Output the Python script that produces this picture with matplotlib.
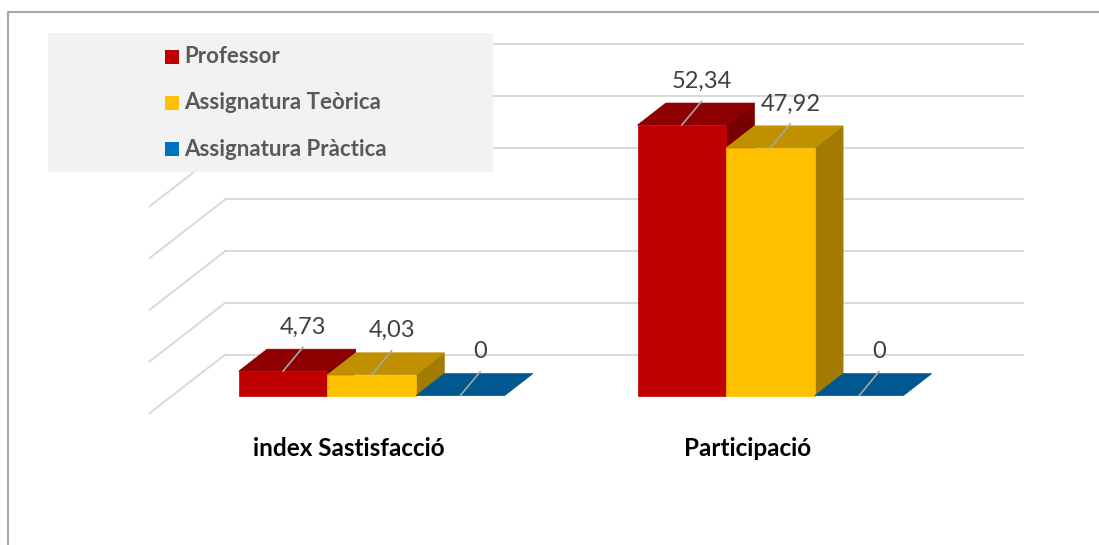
#-----------------------------------------------------------------------
#
#---- plot.py : Histogramme 3D Professor / Assignatura
#
#-----------------------------------------------------------------------

import matplotlib
matplotlib.use("Agg")
import matplotlib.pyplot as plt
from matplotlib.patches import Polygon, Rectangle


#-----------------------------------------------------------------------
#---- Donnees
#-----------------------------------------------------------------------
categories = ["index Sastisfacció", "Participació"]
series = ["Professor", "Assignatura Teòrica", "Assignatura Pràctica"]
professor = [4.73, 52.34]
teorica = [4.03, 47.92]
practica = [0, 0]
values = [professor, teorica, practica]
yTicks = [0, 10, 20, 30, 40, 50, 60]

#---- couleurs (face avant, dessus, cote)
colFront = ["#C00000", "#FFC000", "#005A96"]
colTop = ["#8E0000", "#C09000", "#00588F"]
colSide = ["#780000", "#A27C00", "#004878"]
colLegend = ["#C00000", "#FFC000", "#0070C0"]

plt.rcParams['font.family'] = ['Lato', 'DejaVu Sans']

#-----------------------------------------------------------------------
#---- Geometrie (pixels de l'image)
#-----------------------------------------------------------------------
W, H = 1099, 545
pxPerCat = 398.8
pxPerVal = 5.17
cat0Px = 349.0
floorFrontPx = 413.2

xLeft = -cat0Px / pxPerCat
xRight = (W - cat0Px) / pxPerCat
yTop = floorFrontPx / pxPerVal
yBottom = -(H - floorFrontPx) / pxPerVal

DX = 75.5 / pxPerCat
DY = 58.6 / pxPerVal

barW = 1.0 / 4.5
zFront = 0.30
zBack = 0.675


def proj(x, y, z):
    return (x + z*DX, y + z*DY)


#-----------------------------------------------------------------------
#---- Figure
#-----------------------------------------------------------------------
fig = plt.figure(figsize=(W/100, H/100), dpi=100)
ax = fig.add_axes([0, 0, 1, 1])
ax.set_xlim(xLeft, xRight)
ax.set_ylim(yBottom, yTop)
ax.axis('off')

#---- Grille (mur du fond + mur gauche)
gridCol = "#D9D9D9"
x0Floor = -0.5
x1Floor = len(categories) - 0.5
for v in yTicks:
    p0 = proj(x0Floor, v, 1)
    p1 = proj(x1Floor, v, 1)
    ax.plot([p0[0], p1[0]], [p0[1], p1[1]], color=gridCol, lw=1.4, zorder=1)
    p2 = proj(x0Floor, v, 0)
    ax.plot([p2[0], p0[0]], [p2[1], p0[1]], color=gridCol, lw=1.4, zorder=1)

#---- Barres
for c in range(len(categories)):
    for i in range(len(series)):
        v = values[i][c]
        xa = c - 1.5*barW + i*barW
        xb = xa + barW
        side = [proj(xb, 0, zFront), proj(xb, 0, zBack), proj(xb, v, zBack), proj(xb, v, zFront)]
        top = [proj(xa, v, zFront), proj(xb, v, zFront), proj(xb, v, zBack), proj(xa, v, zBack)]
        front = [proj(xa, 0, zFront), proj(xb, 0, zFront), proj(xb, v, zFront), proj(xa, v, zFront)]
        z = 2 + c*10 + i*3
        if v > 0:
            ax.add_patch(Polygon(side, closed=True, facecolor=colSide[i], edgecolor=colSide[i], lw=0.5, zorder=z))
        ax.add_patch(Polygon(top, closed=True, facecolor=colTop[i], edgecolor=colTop[i], lw=0.5, zorder=z+1))
        if v > 0:
            ax.add_patch(Polygon(front, closed=True, facecolor=colFront[i], edgecolor=colFront[i], lw=0.5, zorder=z+2))

        #---- Etiquette de valeur avec trait de rappel
        if v == int(v):
            txt = str(int(v))
        else:
            txt = ("%.2f" % v).replace('.', ',')
        start = proj(xa + barW/2, v, zFront)
        ax.annotate("", xy=start, xytext=(20, 24), textcoords='offset pixels',
                    arrowprops=dict(arrowstyle='-', color="#A6A6A6", lw=1.2, shrinkA=0, shrinkB=0),
                    zorder=40)
        ax.annotate(txt, xy=start, xytext=(20, 44), textcoords='offset pixels',
                    ha='center', va='center', fontsize=17, color="#404040", zorder=40)

#---- Libelles des categories
for c, lab in enumerate(categories):
    ax.annotate(lab, xy=(c, 0), xytext=(0, -35), textcoords='offset pixels',
                ha='center', va='center', fontsize=17.5, fontweight='bold', color="black")

#---- Legende
ax.add_patch(Rectangle((48/W, 1 - 172/H), (493-48)/W, (172-33)/H, transform=ax.transAxes,
                       facecolor="#F2F2F2", edgecolor='none', zorder=50))
rowsY = [56.5, 102.8, 149.4]
for i, name in enumerate(series):
    ax.add_patch(Rectangle((165/W, 1 - (rowsY[i]+7)/H), 14/W, 14/H, transform=ax.transAxes,
                           facecolor=colLegend[i], edgecolor='none', zorder=51))
    ax.text(184/W, 1 - rowsY[i]/H, name, transform=ax.transAxes, ha='left', va='center',
            fontsize=16, fontweight='bold', color="#595959", zorder=52)

#---- Cadre du graphique
ax.plot([7.5/W, 7.5/W, 1.01], [-0.01, 1 - 11.5/H, 1 - 11.5/H], transform=ax.transAxes,
        color="#A6A6A6", lw=1.5, clip_on=False, zorder=60)

fig.savefig("out.png", dpi=100)
